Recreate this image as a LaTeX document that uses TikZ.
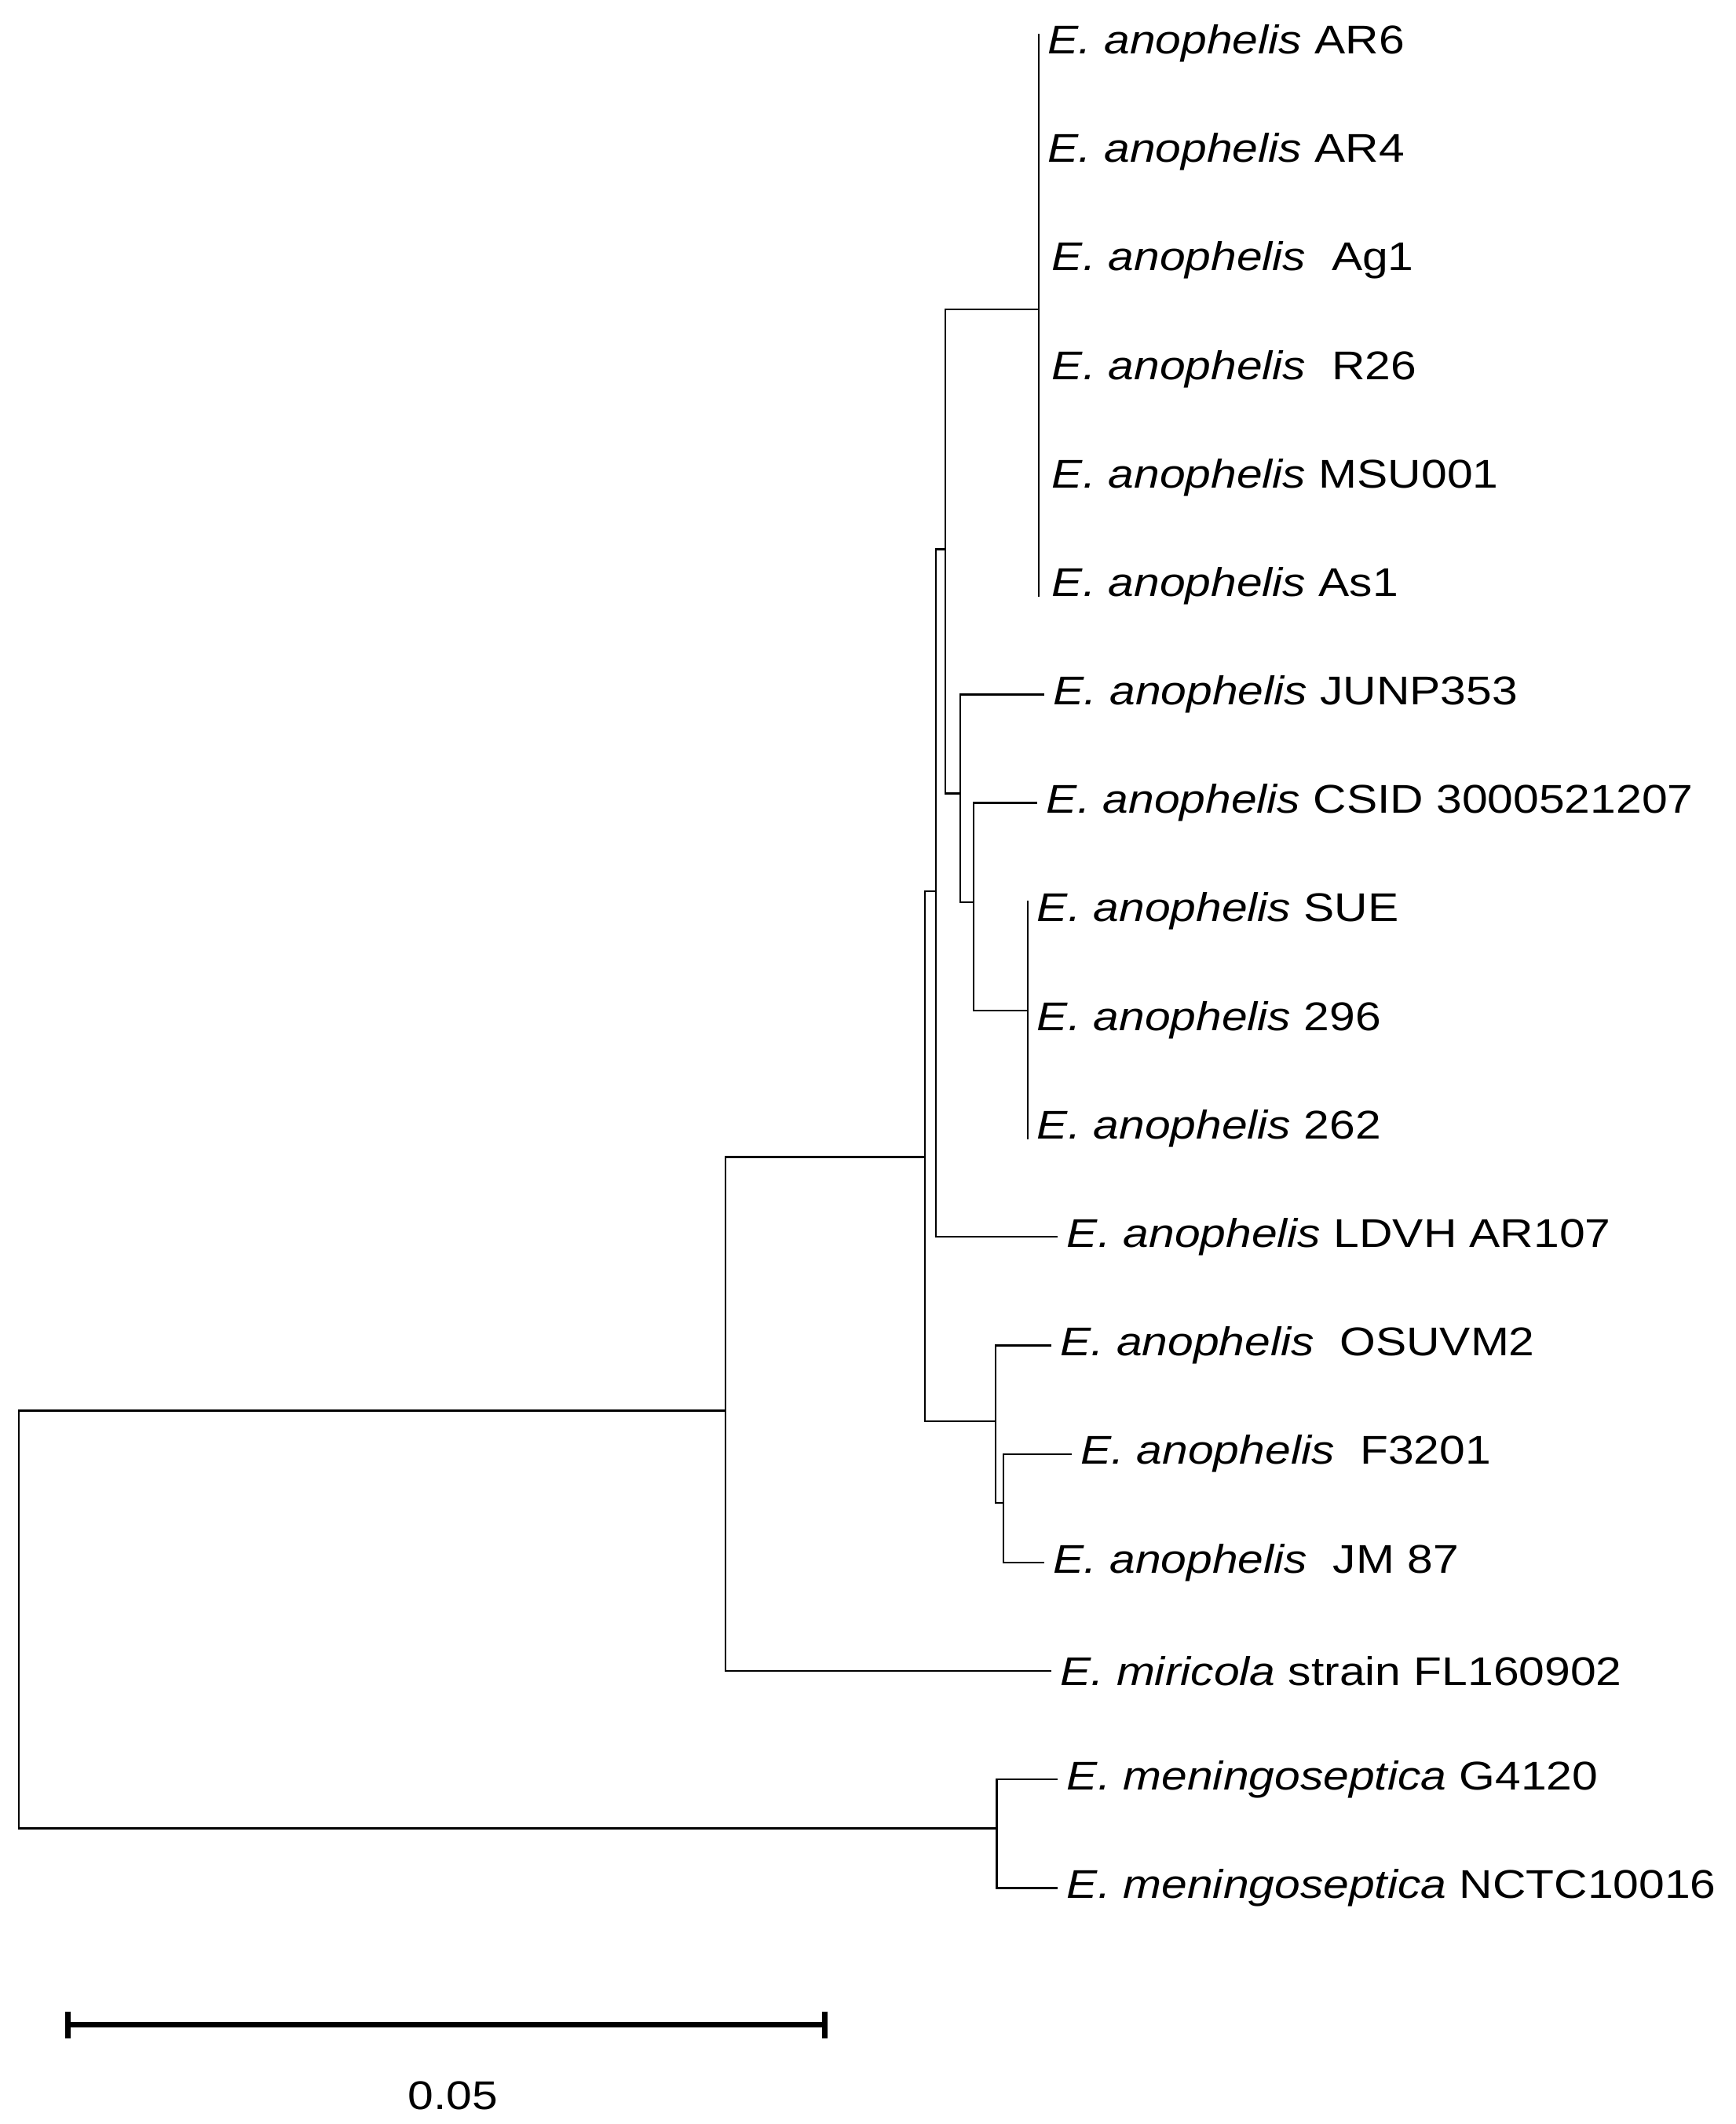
\documentclass[tikz,border=0pt]{standalone}
\usepackage{fontspec}
\usepackage{graphicx}
\setmainfont{Liberation Sans}
\newcommand\lb[1]{\scalebox{1.22}[1.06]{#1}}
\begin{document}
\begin{tikzpicture}[x=1bp,y=-1bp,line width=1.3bp,
  lab/.style={anchor=west,inner sep=0pt,xshift=6bp,font=\fontsize{28}{32}\selectfont}]
\useasboundingbox (0,0) rectangle (1280,1566);
% internal nodes (x of vertical line, mid y)
\coordinate (r) at (14,1194);
\coordinate (a) at (535,1040);
\coordinate (b) at (682,853);
\coordinate (c) at (690,657);
\coordinate (d) at (697,405);
\coordinate (e) at (766,228);
\coordinate (f) at (708,585);
\coordinate (g) at (718,665);
\coordinate (h) at (758,745);
\coordinate (i) at (734,1048);
\coordinate (j) at (740,1108);
\coordinate (k) at (735,1348);
% leaves
\foreach \n/\x/\y in {AR6/766/32,AR4/766/112,Ag1/766/192,R26/766/272,MSU/766/352,As1/766/432,
  JUNP/770/512,CSID/765/592,SUE/758/672,L296/758/752,L262/758/832,LDVH/780/912,
  OSU/775/992,F32/790/1072,JM/770/1152,mir/775/1232,G41/780/1312,NCTC/780/1392}
  \coordinate (\n) at (\x,\y);
% edges
\draw (r) |- (a); \draw (r) |- (k);
\draw (a) |- (b); \draw (a) |- (mir);
\draw (b) |- (c); \draw (b) |- (i);
\draw (c) |- (d); \draw (c) |- (LDVH);
\draw (d) |- (e); \draw (d) |- (f);
\draw (e |- AR6) -- ++(0,-7) (e |- AR6) -- (e |- As1) -- ++(0,8);
\foreach \n in {AR6,AR4,Ag1,R26,MSU,As1} \draw (e |- \n) -- (\n);
\draw (f) |- (JUNP); \draw (f) |- (g);
\draw (g) |- (CSID); \draw (g) |- (h);
\draw (h |- SUE) -- ++(0,-8) (h |- SUE) -- (h |- L262) -- ++(0,8);
\draw (i) |- (OSU); \draw (i) |- (j);
\draw (j) |- (F32); \draw (j) |- (JM);
\draw (k) |- (G41); \draw (k) |- (NCTC);
% labels
\node[lab] at (AR6) {\lb{\textit{E. anophelis} AR6}};
\node[lab] at (AR4) {\lb{\textit{E. anophelis} AR4}};
\node[lab,xshift=3bp] at (Ag1) {\lb{\textit{E. anophelis}\ \ Ag1}};
\node[lab,xshift=3bp] at (R26) {\lb{\textit{E. anophelis}\ \ R26}};
\node[lab,xshift=3bp] at (MSU) {\lb{\textit{E. anophelis} MSU001}};
\node[lab,xshift=3bp] at (As1) {\lb{\textit{E. anophelis} As1}};
\node[lab] at (JUNP) {\lb{\textit{E. anophelis} JUNP353}};
\node[lab] at (CSID) {\lb{\textit{E. anophelis} CSID 3000521207}};
\node[lab] at (SUE) {\lb{\textit{E. anophelis} SUE}};
\node[lab] at (L296) {\lb{\textit{E. anophelis} 296}};
\node[lab] at (L262) {\lb{\textit{E. anophelis} 262}};
\node[lab] at (LDVH) {\lb{\textit{E. anophelis} LDVH AR107}};
\node[lab] at (OSU) {\lb{\textit{E. anophelis}\ \ OSUVM2}};
\node[lab] at (F32) {\lb{\textit{E. anophelis}\ \ F3201}};
\node[lab] at (JM) {\lb{\textit{E. anophelis}\ \ JM 87}};
\node[lab] at (mir) {\lb{\textit{E. miricola} strain FL160902}};
\node[lab] at (G41) {\lb{\textit{E. meningoseptica} G4120}};
\node[lab] at (NCTC) {\lb{\textit{E. meningoseptica} NCTC10016}};
% scale bar
\coordinate (s0) at (50,1493); \coordinate (s1) at (608,1493);
\draw[line width=4bp] (s0) -- (s1);
\draw[line width=4bp] (s0) ++(0,-10) -- ++(0,20);
\draw[line width=4bp] (s1) ++(0,-10) -- ++(0,20);
\node[font=\fontsize{28}{32}\selectfont] (sl) at (334,1545) {\lb{0.05}};
\end{tikzpicture}
\end{document}
